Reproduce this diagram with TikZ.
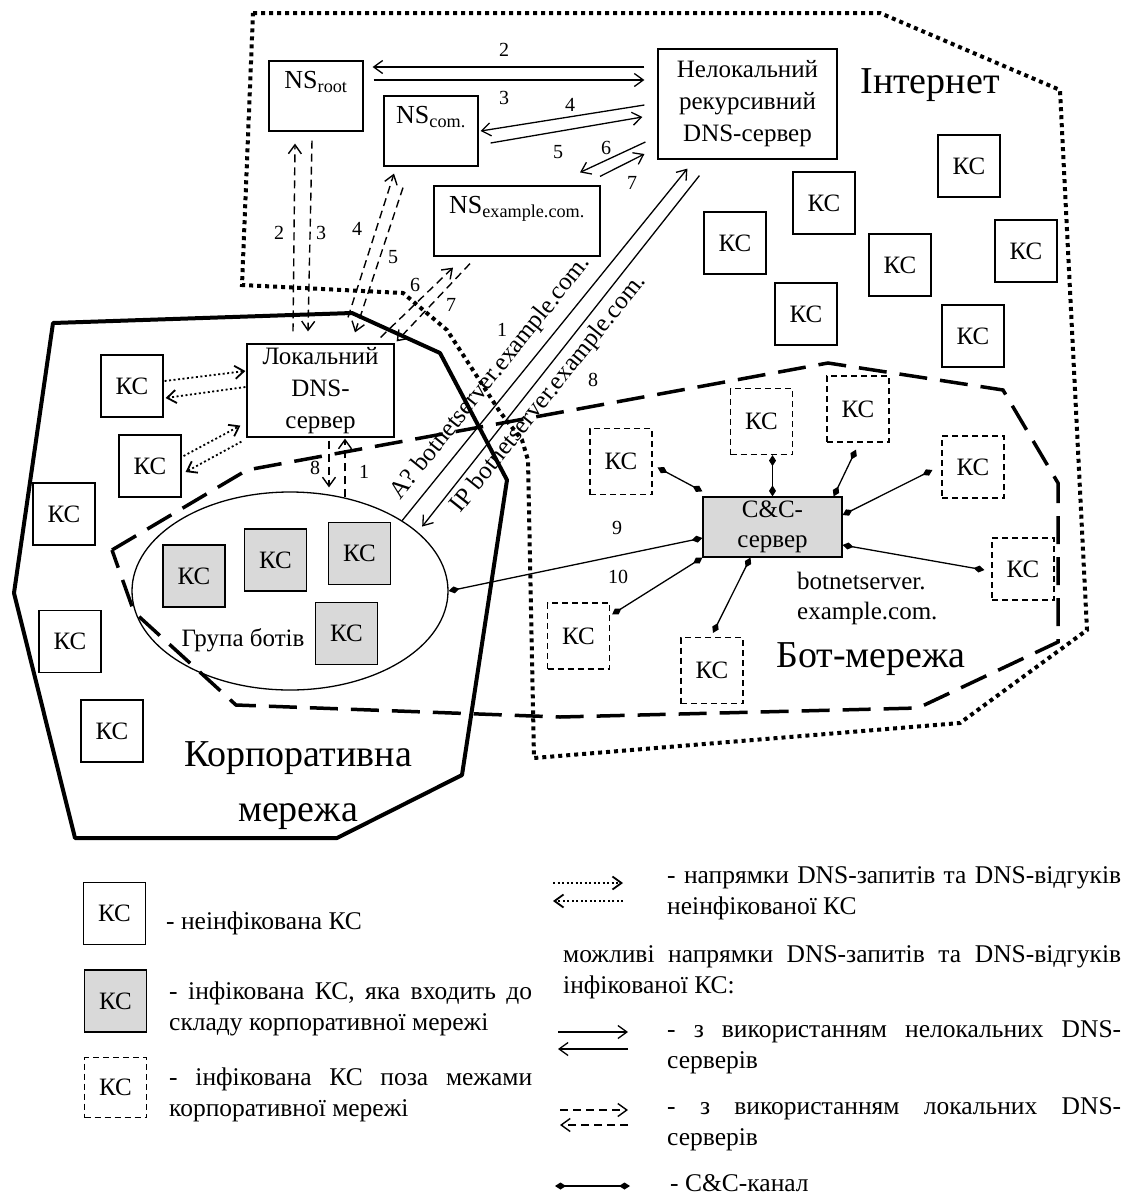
\documentclass[tikz,border=0pt]{standalone}
\usepackage{fontspec}
\setmainfont{Liberation Serif}
\usetikzlibrary{arrows.meta,shapes.geometric}
\tolerance=9999
\hyphenpenalty=10000

\tikzset{
  every node/.style={font=\fontsize{25}{32}\selectfont},
  ks/.style={draw, fill=white, line width=1.2pt, minimum width=62pt, minimum height=62pt, inner sep=0pt},
  ksin/.style={ks, fill=black!15},
  ksout/.style={ks, dash pattern=on 6pt off 4pt, minimum height=66pt},
  srv/.style={draw, fill=white, line width=1.2pt, align=center, inner sep=0pt},
  nslbl/.style={anchor=north, yshift=-11pt, inner sep=0pt, font=\fontsize{26}{30}\selectfont},
  num/.style={inner sep=0pt, font=\fontsize{20}{24}\selectfont},
  big/.style={align=center, font=\fontsize{38}{55}\selectfont},
  legtxt/.style={anchor=west, inner sep=0pt, text width=#1, align=justify, font=\fontsize{25.5}{31}\selectfont},
  nl/.style={line width=1.3pt, ->},
  loc/.style={line width=1.4pt, dash pattern=on 8pt off 5pt, ->},
  unf/.style={line width=1.8pt, dash pattern=on 2pt off 2.5pt, ->},
  cc/.style={line width=1.3pt, arrows={Diamond[length=11pt,width=7pt]-Diamond[length=11pt,width=7pt]}},
  netinet/.style={line width=4pt, dash pattern=on 4pt off 4pt},
  netbot/.style={line width=3.5pt, dash pattern=on 28pt off 13pt},
  netcorp/.style={line width=4pt, line join=round},
  >={Straight Barb[length=9pt,width=13pt]}
}

\begin{document}
\begin{tikzpicture}[x=1pt, y=-1pt]
  \useasboundingbox (0,0) rectangle (1126,1195);

  \draw[netinet] (253,13) -- (880,13) -- (1060,90) -- (1087,630) -- (960,723) -- (534,758) -- (528,460) -- (522,440) -- (500,412) -- (447,330) -- (403,293) -- (242,285) -- cycle;
  \draw[netbot] (112,550) -- (247,470) -- (828,363) -- (1003,390) -- (1058,483) -- (1058,642) -- (918,708) -- (560,717) -- (236,705) -- (134,612) -- (118,567) -- cycle;
  \draw[netcorp] (53,323) -- (352,313) -- (440,353) -- (507,480) -- (462,775) -- (337,838) -- (75,838) -- (14,593) -- cycle;

  \node[srv, minimum width=94pt, minimum height=70pt, label={[nslbl]north:NS\textsubscript{root}}] (nsroot) at (316,96) {};
  \node[srv, minimum width=94pt, minimum height=70pt, label={[nslbl]north:NS\textsubscript{com.}}] (nscom) at (431,131) {};
  \node[srv, minimum width=166pt, minimum height=70pt, label={[nslbl]north:NS\textsubscript{example.com.}}] (nsex) at (517,221) {};
  \node[srv, minimum width=179pt, minimum height=110pt] (rdns) at (747.5,104) {Нелокальний\\рекурсивний\\DNS-сервер};
  \node[srv, minimum width=147pt, minimum height=93pt] (ldns) at (320.5,390.5) {Локальний\\DNS-\\сервер};
  \node[srv, fill=black!15, minimum width=139pt, minimum height=60pt, font=\fontsize{25}{30}\selectfont] (cc) at (772.5,527) {C\&C-\\сервер};
  \node[draw, ellipse, line width=1.3pt, minimum width=316pt, minimum height=198pt] (grp) at (290,591) {};

  \foreach \n/\x/\y in {1/969/166, 2/824/203, 3/735/243, 4/900/265, 5/1026/251, 6/806/314, 7/973/336}
    \node[ks] (inet\n) at (\x,\y) {КС};

  \node[ks] (ks1) at (132,386) {КС};
  \node[ks] (ks2) at (150,466) {КС};
  \node[ks] (ks3) at (64,514) {КС};
  \node[ks] (ks4) at (70,641.5) {КС};
  \node[ks] (ks5) at (112,731) {КС};

  \node[ksin] (bot1g) at (194,576) {КС};
  \node[ksin] (bot2g) at (275.5,560) {КС};
  \node[ksin] (bot3g) at (359.5,553.5) {КС};
  \node[ksin] (bot4g) at (346.5,633.5) {КС};
  \node (grplbl) at (243,640) {Група ботів};

  \node[ksout] (bot1) at (621,461.5) {КС};
  \node[ksout] (bot2) at (761.5,421.5) {КС};
  \node[ksout] (bot3) at (858,409) {КС};
  \node[ksout, minimum height=62pt] (bot4) at (973,467) {КС};
  \node[ksout, minimum height=62pt] (bot5) at (1023,569) {КС};
  \node[ksout] (bot6) at (578.5,636) {КС};
  \node[ksout] (bot7) at (712,670.5) {КС};

  \draw[nl] ([xshift=-13pt,yshift=37pt]rdns.west) -- ([xshift=9pt,yshift=29pt]nsroot.east);
  \draw[nl] ([xshift=10pt,yshift=16pt]nsroot.east) -- ([xshift=-13pt,yshift=24pt]rdns.west);
  \draw[nl] ([xshift=-13pt,yshift=-1pt]rdns.west) -- ([xshift=2pt]nscom.east);
  \draw[nl] ([xshift=12pt,yshift=-12pt]nscom.east) -- ([xshift=-15pt,yshift=-13pt]rdns.west);
  \draw[nl] ([xshift=-12pt,yshift=-38pt]rdns.west) -- ([xshift=63pt,yshift=13pt]nsex.north);
  \draw[nl] ([xshift=83pt,yshift=9pt]nsex.north) -- ([xshift=-13pt,yshift=-50pt]rdns.west);
  \node[num] (t2) at (504,50) {2};
  \node[num] (t3) at (504,98) {3};
  \node[num] (t4) at (570,105) {4};
  \node[num] (t5) at (558,152) {5};
  \node[num] (t6) at (606,148) {6};
  \node[num] (t7) at (632,183) {7};

  \draw[loc] ([xshift=-27.5pt,yshift=12pt]ldns.north) -- ([xshift=-21pt,yshift=-12pt]nsroot.south);
  \draw[loc] ([xshift=-4pt,yshift=-9pt]nsroot.south) -- ([xshift=-12.5pt,yshift=12pt]ldns.north);
  \draw[loc] ([xshift=27.5pt,yshift=26pt]ldns.north) -- ([xshift=-37pt,yshift=-7pt]nscom.south);
  \draw[loc] ([xshift=-28pt,yshift=-21pt]nscom.south) -- ([xshift=34.5pt,yshift=11pt]ldns.north);
  \draw[loc] ([xshift=-14pt,yshift=6pt]ldns.north east) -- ([xshift=-64pt,yshift=-11pt]nsex.south);
  \draw[loc] ([xshift=-47pt,yshift=-7pt]nsex.south) -- ([xshift=2pt,yshift=2pt]ldns.north east);
  \draw[loc] ([xshift=8.5pt,yshift=-3pt]ldns.south) -- ([xshift=39pt,yshift=4pt]grp.north);
  \draw[loc] ([xshift=55pt,yshift=-6pt]grp.north) -- ([xshift=24.5pt,yshift=-1pt]ldns.south);
  \node[num] (d2) at (279,233) {2};
  \node[num] (d3) at (321,233) {3};
  \node[num] (d4) at (357,229) {4};
  \node[num] (d5) at (393,257) {5};
  \node[num] (d6) at (415,285) {6};
  \node[num] (d7) at (451,305) {7};
  \node[num] (d8) at (315,468) {8};
  \node[num] (d1) at (364,472) {1};

  \draw[nl] (grp.north east) -- ([xshift=30pt,yshift=-9pt]rdns.south west);
  \draw[nl] ([xshift=42pt,yshift=-16pt]rdns.south west) -- ([xshift=20pt,yshift=-6pt]grp.north east);
  \node[rotate=51.3, inner sep=0pt] (qa) at (491,378) {A? botnetserver.example.com.};
  \node[rotate=51.3, inner sep=0pt] (qip) at (549,394) {IP botnetserver.example.com.};
  \node[num] (l1) at (502,330) {1};
  \node[num] (l8) at (593,380) {8};

  \draw[unf] ([xshift=1pt,yshift=5pt]ks1.east) -- ([xshift=-1pt,yshift=19.5pt]ldns.west);
  \draw[unf] ([xshift=-1pt,yshift=3.5pt]ldns.west) -- ([xshift=2pt,yshift=-12pt]ks1.east);
  \draw[unf] ([xshift=2pt,yshift=10pt]ks2.east) -- ([xshift=-6pt,yshift=12pt]ldns.south west);
  \draw[unf] ([xshift=-5pt,yshift=-4pt]ldns.south west) -- ([xshift=4pt,yshift=-6pt]ks2.east);

  \draw[cc] ([xshift=5pt,yshift=-6pt]bot1.east) -- ([yshift=5pt]cc.north west);
  \draw[cc] (cc.north |- bot2.south) -- (cc.north);
  \draw[cc] ([xshift=-2pt,yshift=-7pt]bot3.south) -- ([xshift=-9pt]cc.north east);
  \draw[cc] ([xshift=-9pt,yshift=-3pt]bot4.west) -- ([yshift=12pt]cc.east);
  \draw[cc] ([xshift=-7pt,yshift=-1pt]bot5.west) -- ([yshift=-18pt]cc.east);
  \draw[cc] ([xshift=2pt,yshift=-12pt]bot6.north east) -- (cc.south west);
  \draw[cc] ([xshift=1pt,yshift=4pt]bot7.north) -- ([xshift=-22pt]cc.south);
  \draw[cc] (grp.east) -- ([yshift=-11pt]cc.west);
  \node[num] (c9) at (617,528) {9};
  \node[num] (c10) at (618,577) {10};
  \node[anchor=west, align=left, inner sep=0pt, font=\fontsize{25}{30}\selectfont] (ccname) at (797,598) {botnetserver.\\example.com.};

  \node[big] (inet) at (930,85) {Інтернет};
  \node[big] (botnet) at (871,659) {Бот-мережа};
  \node[big] (corp) at (298,786) {Корпоративна\\мережа};

  \node[ks] (lg1) at (114.5,913.5) {КС};
  \node[anchor=west, inner sep=0pt, font=\fontsize{25.5}{31}\selectfont] (lg1t) at (166,923) {- неінфікована КС};
  \node[ksin] (lg2) at (115.5,1001) {КС};
  \node[legtxt=363pt] (lg2t) at (169,1009) {- інфікована КС, яка входить до\linebreak складу корпоративної мережі};
  \node[ksout, minimum height=60pt] (lg3) at (115.5,1087.5) {КС};
  \node[legtxt=363pt] (lg3t) at (169,1095) {- інфікована КС поза межами\linebreak корпоративної мережі};

  \coordinate (u1) at (553,883);
  \coordinate (u2) at (623,883);
  \coordinate (u3) at (623,901);
  \coordinate (u4) at (553,901);
  \draw[unf] (u1) -- (u2);
  \draw[unf] (u3) -- (u4);
  \node[legtxt=454pt] (lr1) at (667,893) {- напрямки DNS-запитів та DNS-відгуків\linebreak неінфікованої КС};
  \node[legtxt=558pt] (lr2) at (563,972) {можливі напрямки DNS-запитів та DNS-відгуків\linebreak інфікованої КС:};

  \coordinate (s1) at (558,1032);
  \coordinate (s2) at (628,1032);
  \coordinate (s3) at (628,1049);
  \coordinate (s4) at (558,1049);
  \draw[nl] (s1) -- (s2);
  \draw[nl] (s3) -- (s4);
  \node[legtxt=454pt] (lr3) at (667,1047) {- з використанням нелокальних DNS-\linebreak серверів};

  \coordinate (p1) at (560,1110);
  \coordinate (p2) at (628,1110);
  \coordinate (p3) at (628,1125);
  \coordinate (p4) at (560,1125);
  \draw[loc] (p1) -- (p2);
  \draw[loc] (p3) -- (p4);
  \node[legtxt=454pt] (lr4) at (667,1124) {- з використанням локальних DNS-\linebreak серверів};

  \coordinate (w1) at (555,1186);
  \coordinate (w2) at (630,1186);
  \draw[cc] (w1) -- (w2);
  \node[anchor=west, inner sep=0pt, font=\fontsize{25.5}{31}\selectfont] (lr5) at (670,1183) {- C\&C-канал};
\end{tikzpicture}
\end{document}
